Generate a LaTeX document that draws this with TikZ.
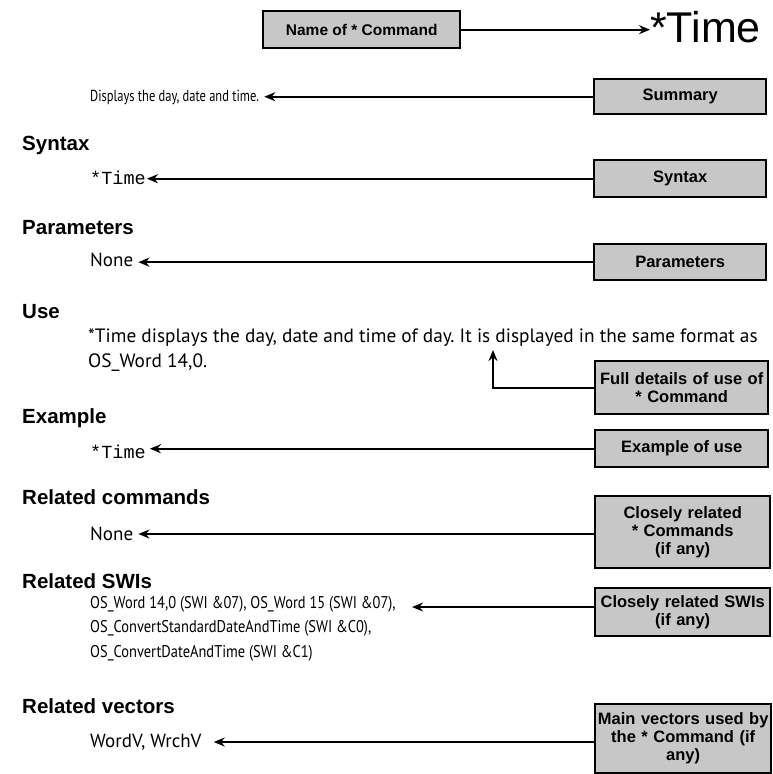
\documentclass[tikz,border=0pt]{standalone}
\usepackage{fontspec}
\setmainfont{PT Sans}
\newfontfamily\narrowA[FakeStretch=0.78]{PT Sans}
\newfontfamily\narrowB[FakeStretch=0.85]{PT Sans}
\newfontfamily\headfont{Liberation Sans}
\newfontfamily\codefont{Liberation Mono}
\usetikzlibrary{arrows.meta,calc}
\definecolor{boxgray}{gray}{0.78}
\frenchspacing
\begin{document}
\begin{tikzpicture}[x=1pt,y=-1pt,
  lbl/.style={draw=black, line width=2.4pt, fill=boxgray, anchor=north west,
    font=\headfont\bfseries\fontsize{16.5}{18}\selectfont, align=center, inner sep=1pt},
  head/.style={anchor=west, inner sep=0pt, font=\headfont\bfseries\fontsize{20.5}{22}\selectfont},
  body/.style={anchor=west, inner sep=0pt, font=\fontsize{19}{25}\selectfont},
  code/.style={anchor=west, inner sep=0pt, font=\codefont\fontsize{18.5}{20}\selectfont},
  conn/.style={line width=2pt, -{Stealth[length=11pt,width=9pt]}}]
\useasboundingbox (0,0) rectangle (772,774);

% title
\node[lbl, minimum width=197, minimum height=37] (namebox) at (262,10) {\fontsize{15.5}{17}\selectfont Name of * Command};
\node[anchor=west, inner sep=0pt, font=\headfont\fontsize{43}{45}\selectfont] (title) at (650,27) {*Time};
\draw[conn] (namebox.east) -- (namebox.east -| title.west);

% summary
\node[anchor=west, inner sep=0pt, font=\narrowA\fontsize{16}{18}\selectfont] (sumtext) at (90,97) {Displays the day, date and time.};
\node[lbl, minimum width=172, minimum height=35] (sumbox) at (593,78) {Summary};
\draw[conn] (sumbox.west) -- ($(sumtext.east |- sumbox.west)+(5,0)$);

% syntax
\node[head] (hsyn) at (22,145) {Syntax};
\node[code] (syntext) at (90,178) {*Time};
\node[lbl, minimum width=172, minimum height=37] (synbox) at (593,159) {Syntax};
\draw[conn] (synbox.west) -- ($(syntext.east |- synbox.west)+(1,0)$);

% parameters
\node[head] (hpar) at (22,228) {Parameters};
\node[body] (partext) at (90,260) {None};
\node[lbl, minimum width=172, minimum height=36] (parbox) at (593,243) {Parameters};
\draw[conn] (parbox.west) -- ($(partext.east |- parbox.west)+(5,0)$);

% use
\node[head] (huse) at (22,312) {Use};
\node[anchor=north west, inner sep=0pt, align=left, font=\fontsize{19.3}{25}\selectfont] (usetext) at (88,328)
  {*Time displays the day, date and time of day. It is displayed in the same format as\\OS\_Word 14,0.};
\node[lbl, minimum width=173, minimum height=53, text width=170] (usebox) at (594,360) {Full details of use of\\{}* Command};
\coordinate (uptip) at (493,350);
\draw[conn] (usebox.west) -- (usebox.west -| uptip) -- (uptip);

% example
\node[head] (hex) at (22,418) {Example};
\node[code] (extext) at (90,452) {*Time};
\node[lbl, minimum width=173, minimum height=37] (exbox) at (594,429) {Example of use};
\draw[conn] (exbox.west) -- ($(extext.east |- exbox.west)+(4,0)$);

% related commands
\node[head] (hrc) at (22,497) {Related commands};
\node[body] (rctext) at (90,534) {None};
\node[lbl, minimum width=175, minimum height=72, text width=172] (rcbox) at (594,495) {Closely related\\{}* Commands\\(if any)};
\draw[conn] (rcbox.west |- rctext.east) -- ($(rctext.east)+(5,0)$);

% related SWIs
\node[head] (hswi) at (22,581) {Related SWIs};
\node[anchor=north west, inner sep=0pt, align=left, font=\narrowB\fontsize{17}{24.5}\selectfont] (switext) at (90,596)
  {OS\_Word 14,0 (SWI \&07), OS\_Word 15 (SWI \&07),\\OS\_ConvertStandardDateAndTime (SWI \&C0),\\OS\_ConvertDateAndTime (SWI \&C1)};
\node[lbl, minimum width=175, minimum height=48, text width=172] (swibox) at (594,587) {Closely related SWIs\\(if any)};
\coordinate (switip) at (412,607);
\draw[conn] (swibox.west |- switip) -- (switip);

% related vectors
\node[head] (hvec) at (22,706) {Related vectors};
\node[body] (vectext) at (90,742) {WordV, WrchV};
\node[lbl, minimum width=176, minimum height=69, text width=173] (vecbox) at (594,703) {Main vectors used by\\the * Command (if\\any)};
\draw[conn] (vecbox.west |- vectext.east) -- ($(vectext.east)+(12,0)$);
\end{tikzpicture}
\end{document}
